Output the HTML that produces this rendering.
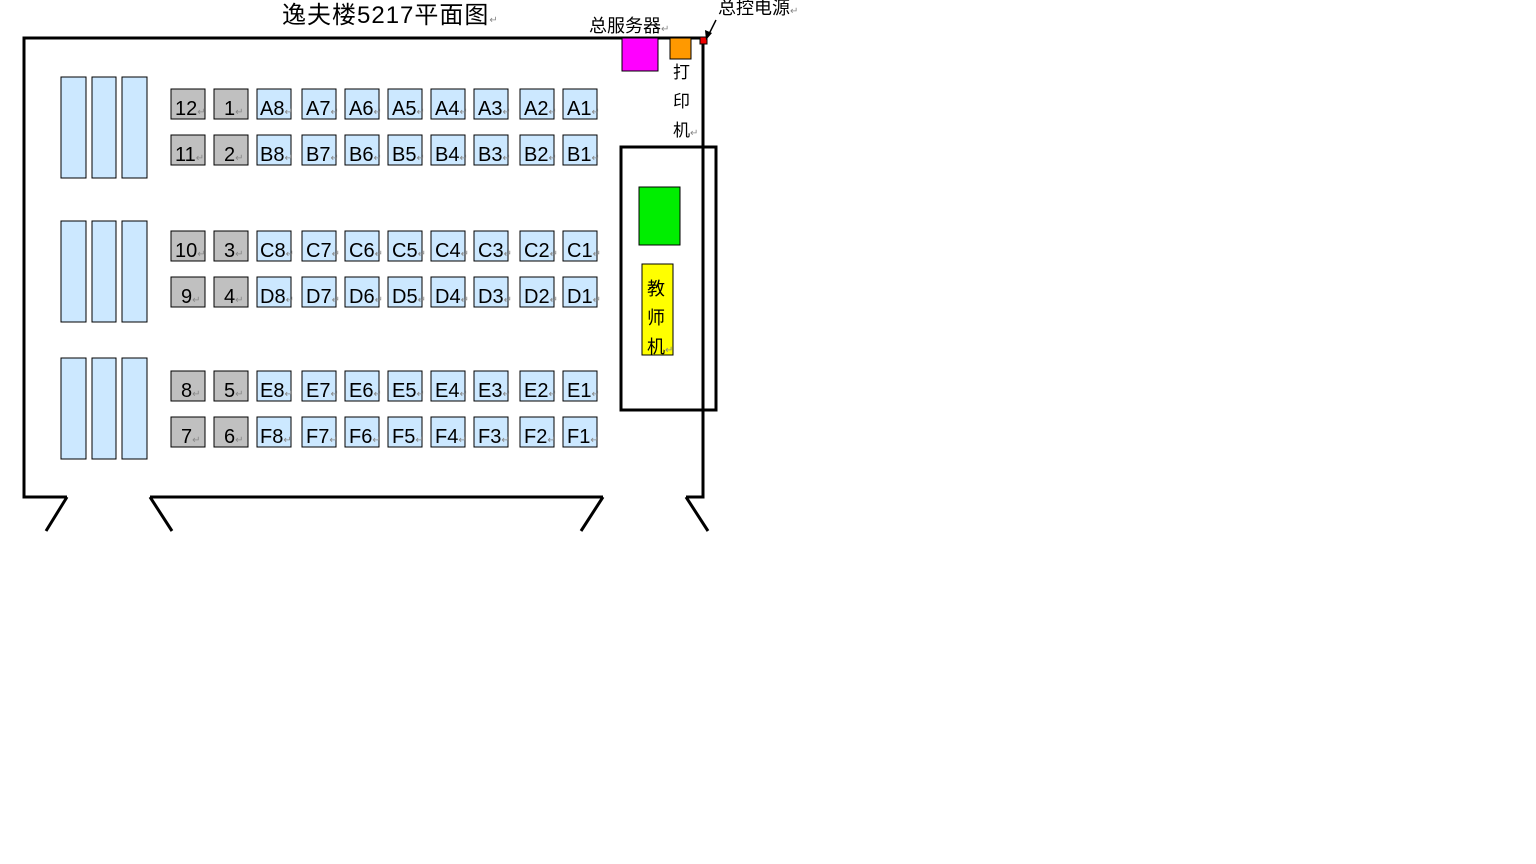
<!DOCTYPE html>
<html><head><meta charset="utf-8"><style>
html,body{margin:0;padding:0;background:#fff;width:1536px;height:864px;overflow:hidden}
svg{display:block}
text{font-family:"Liberation Sans","Noto Sans CJK SC",sans-serif}
.c{fill:#cce8ff;stroke:#000;stroke-width:1}
.g{fill:#c0c0c0;stroke:#000;stroke-width:1}
.l{font-size:20px;fill:#000}
.r{font-size:10px;fill:#888}
.w{fill:none;stroke:#000;stroke-width:3}
</style></head><body>
<svg width="1536" height="864" xmlns="http://www.w3.org/2000/svg">
<text x="282" y="23" style="font-size:24px;letter-spacing:1px">逸夫楼5217平面图<tspan class="r">↵</tspan></text>
<text x="589" y="32" style="font-size:18px">总服务器<tspan class="r">↵</tspan></text>
<text x="718" y="14" style="font-size:18px">总控电源<tspan class="r">↵</tspan></text>
<path class="w" d="M67,497 L24,497 L24,38 L703,38 L703,497 L686,497"/>
<path class="w" d="M150,497 L603,497"/>
<path class="w" d="M67,497 L46,531 M150,497 L172,531 M603,497 L581,531 M686,497 L708,531"/>
<rect x="621" y="147" width="95" height="263" fill="none" stroke="#000" stroke-width="3"/>
<line x1="703" y1="147" x2="703" y2="410" stroke="#000" stroke-width="3"/>
<rect x="622" y="38" width="36" height="33" fill="#ff00ff" stroke="#000" stroke-width="1"/>
<rect x="670" y="38" width="21" height="21" fill="#ff9900" stroke="#000" stroke-width="1"/>
<rect x="700" y="37" width="7" height="7" fill="#e00" stroke="#000" stroke-width="1"/>
<line x1="716" y1="20" x2="708" y2="36" stroke="#000" stroke-width="1.5"/>
<path d="M706,40 L705,30 L712,33 Z" fill="#000"/>
<text x="673" y="78" style="font-size:17px">打</text>
<text x="673" y="107" style="font-size:17px">印</text>
<text x="673" y="136" style="font-size:17px">机<tspan class="r">↵</tspan></text>
<rect x="639" y="187" width="41" height="58" fill="#00ee00" stroke="#000" stroke-width="1"/>
<rect x="642" y="264" width="31" height="91" fill="#ffff00" stroke="#000" stroke-width="1"/>
<text x="647" y="295" style="font-size:18px">教</text>
<text x="647" y="324" style="font-size:18px">师</text>
<text x="647" y="353" style="font-size:18px">机<tspan class="r">↵</tspan></text>
<rect class="c" x="61" y="77" width="25" height="101"/><rect class="c" x="92" y="77" width="24" height="101"/><rect class="c" x="122" y="77" width="25" height="101"/>
<rect class="c" x="61" y="221" width="25" height="101"/><rect class="c" x="92" y="221" width="24" height="101"/><rect class="c" x="122" y="221" width="25" height="101"/>
<rect class="c" x="61" y="358" width="25" height="101"/><rect class="c" x="92" y="358" width="24" height="101"/><rect class="c" x="122" y="358" width="25" height="101"/>
<g font-size="20">
<rect class="g" x="171" y="89" width="34" height="30"/><text class="l" x="175" y="115">12<tspan class="r">↵</tspan></text>
<rect class="g" x="214" y="89" width="34" height="30"/><text class="l" x="224" y="115">1<tspan class="r">↵</tspan></text>
<rect class="c" x="257" y="89" width="34" height="30"/><text class="l" x="260" y="115">A8<tspan class="r">↵</tspan></text>
<rect class="c" x="302" y="89" width="34" height="30"/><text class="l" x="306" y="115">A7<tspan class="r">↵</tspan></text>
<rect class="c" x="345" y="89" width="34" height="30"/><text class="l" x="349" y="115">A6<tspan class="r">↵</tspan></text>
<rect class="c" x="388" y="89" width="34" height="30"/><text class="l" x="392" y="115">A5<tspan class="r">↵</tspan></text>
<rect class="c" x="431" y="89" width="34" height="30"/><text class="l" x="435" y="115">A4<tspan class="r">↵</tspan></text>
<rect class="c" x="474" y="89" width="34" height="30"/><text class="l" x="478" y="115">A3<tspan class="r">↵</tspan></text>
<rect class="c" x="520" y="89" width="34" height="30"/><text class="l" x="524" y="115">A2<tspan class="r">↵</tspan></text>
<rect class="c" x="563" y="89" width="34" height="30"/><text class="l" x="567" y="115">A1<tspan class="r">↵</tspan></text>
<rect class="g" x="171" y="135" width="34" height="30"/><text class="l" x="175" y="161">11<tspan class="r">↵</tspan></text>
<rect class="g" x="214" y="135" width="34" height="30"/><text class="l" x="224" y="161">2<tspan class="r">↵</tspan></text>
<rect class="c" x="257" y="135" width="34" height="30"/><text class="l" x="260" y="161">B8<tspan class="r">↵</tspan></text>
<rect class="c" x="302" y="135" width="34" height="30"/><text class="l" x="306" y="161">B7<tspan class="r">↵</tspan></text>
<rect class="c" x="345" y="135" width="34" height="30"/><text class="l" x="349" y="161">B6<tspan class="r">↵</tspan></text>
<rect class="c" x="388" y="135" width="34" height="30"/><text class="l" x="392" y="161">B5<tspan class="r">↵</tspan></text>
<rect class="c" x="431" y="135" width="34" height="30"/><text class="l" x="435" y="161">B4<tspan class="r">↵</tspan></text>
<rect class="c" x="474" y="135" width="34" height="30"/><text class="l" x="478" y="161">B3<tspan class="r">↵</tspan></text>
<rect class="c" x="520" y="135" width="34" height="30"/><text class="l" x="524" y="161">B2<tspan class="r">↵</tspan></text>
<rect class="c" x="563" y="135" width="34" height="30"/><text class="l" x="567" y="161">B1<tspan class="r">↵</tspan></text>
<rect class="g" x="171" y="231" width="34" height="30"/><text class="l" x="175" y="257">10<tspan class="r">↵</tspan></text>
<rect class="g" x="214" y="231" width="34" height="30"/><text class="l" x="224" y="257">3<tspan class="r">↵</tspan></text>
<rect class="c" x="257" y="231" width="34" height="30"/><text class="l" x="260" y="257">C8<tspan class="r">↵</tspan></text>
<rect class="c" x="302" y="231" width="34" height="30"/><text class="l" x="306" y="257">C7<tspan class="r">↵</tspan></text>
<rect class="c" x="345" y="231" width="34" height="30"/><text class="l" x="349" y="257">C6<tspan class="r">↵</tspan></text>
<rect class="c" x="388" y="231" width="34" height="30"/><text class="l" x="392" y="257">C5<tspan class="r">↵</tspan></text>
<rect class="c" x="431" y="231" width="34" height="30"/><text class="l" x="435" y="257">C4<tspan class="r">↵</tspan></text>
<rect class="c" x="474" y="231" width="34" height="30"/><text class="l" x="478" y="257">C3<tspan class="r">↵</tspan></text>
<rect class="c" x="520" y="231" width="34" height="30"/><text class="l" x="524" y="257">C2<tspan class="r">↵</tspan></text>
<rect class="c" x="563" y="231" width="34" height="30"/><text class="l" x="567" y="257">C1<tspan class="r">↵</tspan></text>
<rect class="g" x="171" y="277" width="34" height="30"/><text class="l" x="181" y="303">9<tspan class="r">↵</tspan></text>
<rect class="g" x="214" y="277" width="34" height="30"/><text class="l" x="224" y="303">4<tspan class="r">↵</tspan></text>
<rect class="c" x="257" y="277" width="34" height="30"/><text class="l" x="260" y="303">D8<tspan class="r">↵</tspan></text>
<rect class="c" x="302" y="277" width="34" height="30"/><text class="l" x="306" y="303">D7<tspan class="r">↵</tspan></text>
<rect class="c" x="345" y="277" width="34" height="30"/><text class="l" x="349" y="303">D6<tspan class="r">↵</tspan></text>
<rect class="c" x="388" y="277" width="34" height="30"/><text class="l" x="392" y="303">D5<tspan class="r">↵</tspan></text>
<rect class="c" x="431" y="277" width="34" height="30"/><text class="l" x="435" y="303">D4<tspan class="r">↵</tspan></text>
<rect class="c" x="474" y="277" width="34" height="30"/><text class="l" x="478" y="303">D3<tspan class="r">↵</tspan></text>
<rect class="c" x="520" y="277" width="34" height="30"/><text class="l" x="524" y="303">D2<tspan class="r">↵</tspan></text>
<rect class="c" x="563" y="277" width="34" height="30"/><text class="l" x="567" y="303">D1<tspan class="r">↵</tspan></text>
<rect class="g" x="171" y="371" width="34" height="30"/><text class="l" x="181" y="397">8<tspan class="r">↵</tspan></text>
<rect class="g" x="214" y="371" width="34" height="30"/><text class="l" x="224" y="397">5<tspan class="r">↵</tspan></text>
<rect class="c" x="257" y="371" width="34" height="30"/><text class="l" x="260" y="397">E8<tspan class="r">↵</tspan></text>
<rect class="c" x="302" y="371" width="34" height="30"/><text class="l" x="306" y="397">E7<tspan class="r">↵</tspan></text>
<rect class="c" x="345" y="371" width="34" height="30"/><text class="l" x="349" y="397">E6<tspan class="r">↵</tspan></text>
<rect class="c" x="388" y="371" width="34" height="30"/><text class="l" x="392" y="397">E5<tspan class="r">↵</tspan></text>
<rect class="c" x="431" y="371" width="34" height="30"/><text class="l" x="435" y="397">E4<tspan class="r">↵</tspan></text>
<rect class="c" x="474" y="371" width="34" height="30"/><text class="l" x="478" y="397">E3<tspan class="r">↵</tspan></text>
<rect class="c" x="520" y="371" width="34" height="30"/><text class="l" x="524" y="397">E2<tspan class="r">↵</tspan></text>
<rect class="c" x="563" y="371" width="34" height="30"/><text class="l" x="567" y="397">E1<tspan class="r">↵</tspan></text>
<rect class="g" x="171" y="417" width="34" height="30"/><text class="l" x="181" y="443">7<tspan class="r">↵</tspan></text>
<rect class="g" x="214" y="417" width="34" height="30"/><text class="l" x="224" y="443">6<tspan class="r">↵</tspan></text>
<rect class="c" x="257" y="417" width="34" height="30"/><text class="l" x="260" y="443">F8<tspan class="r">↵</tspan></text>
<rect class="c" x="302" y="417" width="34" height="30"/><text class="l" x="306" y="443">F7<tspan class="r">↵</tspan></text>
<rect class="c" x="345" y="417" width="34" height="30"/><text class="l" x="349" y="443">F6<tspan class="r">↵</tspan></text>
<rect class="c" x="388" y="417" width="34" height="30"/><text class="l" x="392" y="443">F5<tspan class="r">↵</tspan></text>
<rect class="c" x="431" y="417" width="34" height="30"/><text class="l" x="435" y="443">F4<tspan class="r">↵</tspan></text>
<rect class="c" x="474" y="417" width="34" height="30"/><text class="l" x="478" y="443">F3<tspan class="r">↵</tspan></text>
<rect class="c" x="520" y="417" width="34" height="30"/><text class="l" x="524" y="443">F2<tspan class="r">↵</tspan></text>
<rect class="c" x="563" y="417" width="34" height="30"/><text class="l" x="567" y="443">F1<tspan class="r">↵</tspan></text>
</g>
</svg>
</body></html>
